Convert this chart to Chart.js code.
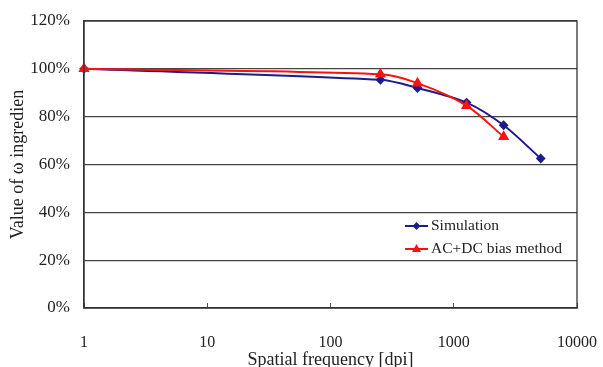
<!DOCTYPE html>
<html>
<head>
<meta charset="utf-8">
<script src="https://cdn.jsdelivr.net/npm/chart.js@4/dist/chart.umd.min.js"></script>
<style>
html,body{margin:0;padding:0;background:#fff;}
#wrap{width:603px;height:367px;}
</style>
</head>
<body>
<div id="wrap"><canvas id="chart" width="603" height="367"></canvas></div>
<script>
// data
const freqs = [1, 254, 508, 1270, 2540, 5080];
const simulation = [100, 95.4, 92.0, 85.9, 76.4, 62.5];
const acdcFreqs = [1, 254, 508, 1270, 2540];
const acdcBias = [100, 97.7, 94.0, 84.6, 71.6];
const xTicks = [1, 10, 100, 1000, 10000];
const seriesNames = ['Simulation', 'AC+DC bias method'];

const FONT = 'Liberation Serif, Times New Roman, serif';

function toPoints(xs, ys){
  return xs.map((x, i) => ({x: x, y: ys[i]}));
}

// legend drawn inside the plot area, bottom right
const insideLegend = {
  id: 'insideLegend',
  afterDraw(chart){
    const ctx = chart.ctx, a = chart.chartArea;
    const x0 = a.right - 172, y0 = a.top + 205;
    chart.data.datasets.forEach((ds, i) => {
      const y = y0 + i * 23;
      ctx.save();
      ctx.strokeStyle = ds.borderColor;
      ctx.lineWidth = 2;
      ctx.beginPath();
      ctx.moveTo(x0, y); ctx.lineTo(x0 + 23, y);
      ctx.stroke();
      ctx.fillStyle = ds.borderColor;
      ctx.beginPath();
      if(ds.pointStyle === 'triangle'){
        ctx.moveTo(x0 + 11.5, y - 5); ctx.lineTo(x0 + 16, y + 3); ctx.lineTo(x0 + 7, y + 3);
      } else {
        ctx.moveTo(x0 + 11.5, y - 4); ctx.lineTo(x0 + 15.5, y); ctx.lineTo(x0 + 11.5, y + 4); ctx.lineTo(x0 + 7.5, y);
      }
      ctx.closePath();
      ctx.fill();
      ctx.fillStyle = '#222';
      ctx.font = '15.5px ' + FONT;
      ctx.textBaseline = 'middle';
      ctx.fillText(ds.label, x0 + 26, y);
      ctx.restore();
    });
  }
};

// box round the plot area
const frame = {
  id: 'frame',
  afterDatasetsDraw(chart){
    const ctx = chart.ctx, a = chart.chartArea;
    ctx.save();
    ctx.strokeStyle = '#333';
    ctx.lineWidth = 1.3;
    ctx.strokeRect(a.left, a.top, a.right - a.left, a.bottom - a.top);
    ctx.restore();
  }
};

new Chart(document.getElementById('chart'), {
  type: 'line',
  data: {
    datasets: [
      {label: seriesNames[0], data: toPoints(freqs, simulation), borderColor: '#1c1c8c', backgroundColor: '#1c1c8c',
       borderWidth: 2, pointStyle: 'rectRot', pointRadius: 3.5, tension: 0.3, order: 2},
      {label: seriesNames[1], data: toPoints(acdcFreqs, acdcBias), borderColor: '#ff1010', backgroundColor: '#ff1010',
       borderWidth: 2, pointStyle: 'triangle', pointRadius: 4.5, tension: 0.3, order: 1}
    ]
  },
  options: {
    responsive: false,
    animation: false,
    clip: false,
    layout: {padding: {top: 21, right: 26, left: 0, bottom: 0}},
    plugins: {legend: {display: false}, tooltip: {enabled: false}},
    scales: {
      x: {
        type: 'logarithmic', min: 1, max: 10000,
        afterBuildTicks: (s) => { s.ticks = xTicks.map(v => ({value: v})); },
        afterFit: (s) => { s.height = 59; s.paddingLeft = 0; s.paddingRight = 0; },
        grid: {drawOnChartArea: false, tickLength: -5, color: '#555', lineWidth: 1},
        border: {display: true, color: '#333', width: 1.3},
        ticks: {autoSkip: false, maxRotation: 0, padding: 30, color: '#222', font: {family: FONT, size: 16},
                callback: (v) => String(v)},
        title: {display: true, text: 'Spatial frequency [dpi]', color: '#222', font: {family: FONT, size: 18}, padding: {top: 0, bottom: -4}}
      },
      y: {
        min: 0, max: 120,
        afterFit: (s) => { s.width = 84; s.paddingTop = 0; s.paddingBottom = 0; },
        grid: {color: '#444', lineWidth: 1.2, drawTicks: false},
        border: {display: true, color: '#333', width: 1.3},
        ticks: {stepSize: 20, padding: 14, color: '#222', font: {family: FONT, size: 17},
                callback: (v) => v + '%'},
        title: {display: true, text: 'Value of ω ingredien', color: '#222', font: {family: FONT, size: 18}, padding: {top: 7, bottom: 0}}
      }
    }
  },
  plugins: [frame, insideLegend]
});
</script>
</body>
</html>
